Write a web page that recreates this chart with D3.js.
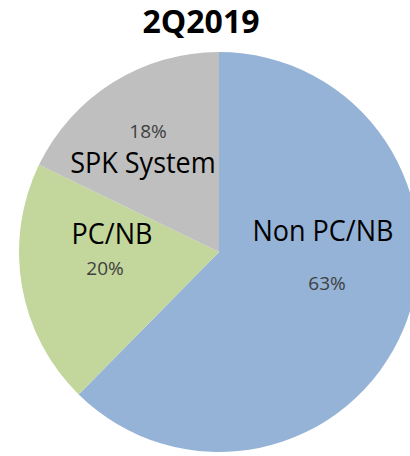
<!DOCTYPE html>
<html>
<head>
<meta charset="utf-8">
<script src="https://cdn.jsdelivr.net/npm/d3@7"></script>
<style>
  html, body { margin: 0; padding: 0; background: #fff; }
  text { font-family: "Open Sans", "Noto Sans", sans-serif; }
</style>
</head>
<body>
<div id="chart"></div>
<script>
// Data
const title = "2Q2019";
const categories = ["Non PC/NB", "PC/NB", "SPK System"];
const shares = [63, 20, 18];
const shareLabels = ["63%", "20%", "18%"];

const sliceColors = {
  "Non PC/NB": "#95B3D7",
  "PC/NB": "#C3D69B",
  "SPK System": "#BFBFBF"
};

// Label placement (name baseline, value baseline), in page pixels
const labelLayout = {
  "Non PC/NB":  { nx: 323, ny: 241, vx: 327, vy: 290 },
  "PC/NB":      { nx: 112, ny: 244, vx: 105, vy: 275 },
  "SPK System": { nx: 143, ny: 173, vx: 148, vy: 138 }
};

const width = 410, height = 456;
const cx = 219, cy = 252, radius = 200;

const svg = d3.select("#chart")
  .append("svg")
  .attr("width", width)
  .attr("height", height);

// Title
svg.append("text")
  .attr("x", 201)
  .attr("y", 33)
  .attr("text-anchor", "middle")
  .attr("font-size", 32)
  .attr("font-weight", "bold")
  .attr("fill", "#000")
  .text(title);

const data = categories.map((c, i) => ({ name: c, value: shares[i], label: shareLabels[i] }));

const pie = d3.pie()
  .sort(null)
  .value(d => d.value);

const arc = d3.arc()
  .innerRadius(0)
  .outerRadius(radius);

const g = svg.append("g")
  .attr("transform", `translate(${cx},${cy})`);

g.selectAll("path.slice")
  .data(pie(data))
  .enter()
  .append("path")
  .attr("class", "slice")
  .attr("d", arc)
  .attr("fill", d => sliceColors[d.data.name]);

// Category names (slightly tall face, like the original)
svg.selectAll("text.name")
  .data(data)
  .enter()
  .append("text")
  .attr("class", "name")
  .attr("transform", d => `translate(${labelLayout[d.name].nx},${labelLayout[d.name].ny}) scale(1,1.08)`)
  .attr("text-anchor", "middle")
  .attr("font-size", 27)
  .attr("fill", "#000")
  .text(d => d.name);

// Percentages
svg.selectAll("text.value")
  .data(data)
  .enter()
  .append("text")
  .attr("class", "value")
  .attr("x", d => labelLayout[d.name].vx)
  .attr("y", d => labelLayout[d.name].vy)
  .attr("text-anchor", "middle")
  .attr("font-size", 19)
  .attr("fill", "#404040")
  .text(d => d.label);
</script>
</body>
</html>
